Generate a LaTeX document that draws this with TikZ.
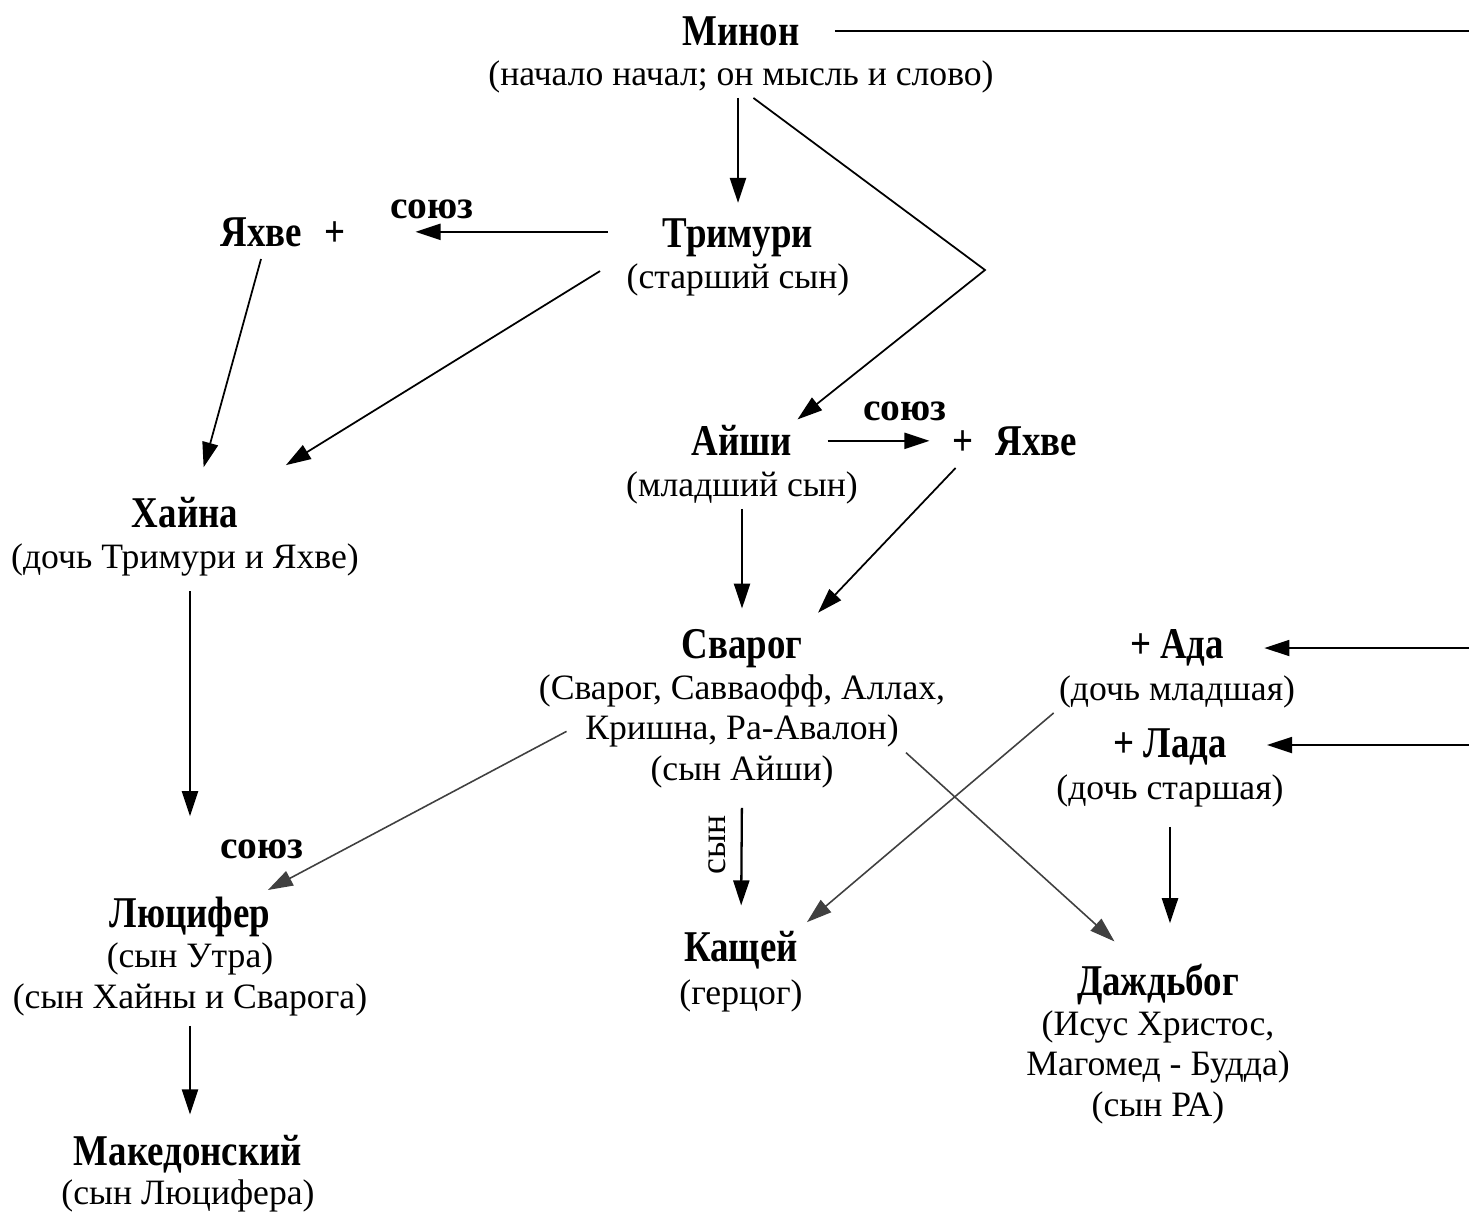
\documentclass[tikz,border=0pt]{standalone}
\usepackage{fontspec}
\setmainfont{Liberation Serif}
\newfontfamily\namefont[FakeStretch=0.84]{Liberation Serif}
\usetikzlibrary{arrows.meta}

\tikzset{
  godname/.style={font=\namefont\bfseries\fontsize{25}{27}\selectfont, inner sep=0.1cm, anchor=base},
  godnote/.style={font=\fontsize{20.3}{22.8}\selectfont, align=center, inner sep=0.1cm, anchor=base},
  unionlbl/.style={font=\bfseries\fontsize{22.5}{24}\selectfont, inner sep=0.1cm, anchor=base},
  descent/.style={-{Triangle[length=0.5cm,width=0.32cm]}, line width=1.3pt},
  descent thin/.style={descent, line width=0.9pt, draw=black!75, fill=black!75},
}

\begin{document}
\begin{tikzpicture}[x=0.02cm,y=-0.02cm]
\useasboundingbox (0,0) rectangle (1469,1214);

% gods and their notes (base = last line)
\node[godname] (minon) at (741,45) {Минон};
\node[godnote] (minon-s) at (741,85) {(начало начал; он мысль и слово)};
\node[godname] (trimuri) at (738,247) {Тримури};
\node[godnote] (trimuri-s) at (738,288) {(старший сын)};
\node[godname] (yahveA) at (283,246) {Яхве\enspace+};
\node[godname] (aishi) at (742,455) {Айши};
\node[godnote] (aishi-s) at (742,496) {(младший сын)};
\node[godname] (yahveB) at (1015,455) {+\enspace Яхве};
\node[godname] (hayna) at (185,527) {Хайна};
\node[godnote] (hayna-s) at (185,568) {(дочь Тримури и Яхве)};
\node[godname] (svarog) at (742,658) {Сварог};
\node[godnote] (svarog-s) at (742,780) {(Сварог, Савваофф, Аллах,\\Кришна, Ра-Авалон)\\(сын Айши)};
\node[godname] (ada) at (1177,658) {+ Ада};
\node[godnote] (ada-s) at (1177,700) {(дочь младшая)};
\node[godname] (lada) at (1170,757) {+ Лада};
\node[godnote] (lada-s) at (1170,799) {(дочь старшая)};
\node[godname] (lucifer) at (190,927) {Люцифер};
\node[godnote] (lucifer-s) at (190,1008) {(сын Утра)\\(сын Хайны и Сварога)};
\node[godname] (makedon) at (188,1165) {Македонский};
\node[godnote] (makedon-s) at (188,1204) {(сын Люцифера)};
\node[godname] (kashchey) at (741,961) {Кащей};
\node[godnote] (kashchey-s) at (741,1004) {(герцог)};
\node[godname] (dazhdbog) at (1158,995) {Даждьбог};
\node[godnote] (dazhdbog-s) at (1158,1116) {(Исус Христос,\\Магомед - Будда)\\(сын РА)};

% labels on links
\node[unionlbl] (soyuzA) at (432,218) {союз};
\node[unionlbl] (soyuzB) at (905,420) {союз};
\node[unionlbl] (soyuzC) at (262,858) {союз};
\node[godnote, anchor=center, rotate=90] (son) at (717,845) {сын};

\coordinate (edgeA) at (1469,30);
\coordinate (edgeB) at (1469,648);
\coordinate (edgeC) at (1469,745);
\coordinate (bend) at (985,270);

% links
\draw[line width=0.9pt, shorten <=0.6cm] (minon.east) -- (minon.east -| edgeA);
\draw[descent, shorten >=0.2cm] (minon-s.south -| trimuri.north) -- (trimuri.north);
\draw[descent, line width=1pt] (minon-s.-60) -- (bend) -- (aishi.north east);
\draw[descent, shorten <=1cm, shorten >=1.3cm] (yahveA.east -| trimuri.west) -- (yahveA.east);
\draw[descent, line width=1pt, shorten <=0.15cm, shorten >=0.5cm] ([xshift=-0.4cm]yahveA.south) -- ([xshift=0.24cm]hayna.north);
\draw[descent, line width=1pt, shorten <=0.5cm, shorten >=1cm] (trimuri-s.north west) -- (hayna.north east);
\draw[descent, shorten <=0.6cm, shorten >=0.36cm] (aishi.east |- yahveB.west) -- (yahveB.west);
\draw[descent, shorten >=0.3cm] (aishi-s.south -| svarog.north) -- (svarog.north);
\draw[descent, line width=1pt, shorten <=0.2cm, shorten >=0.3cm] ([xshift=0.3cm]yahveB.south west) -- (svarog.north east);
\draw[descent, shorten <=0.2cm, shorten >=1.5cm] (hayna-s.south -| lucifer.north) -- (lucifer.north);
\draw[descent thin, shorten >=0.05cm] ([xshift=0.66cm]svarog-s.west) -- ([xshift=-0.2cm]lucifer.north east);
\draw[descent, shorten <=0.3cm, shorten >=0.4cm] (svarog-s.south) -- (kashchey.north);
\draw[descent thin, shorten <=-1.2cm, shorten >=0.5cm] (svarog-s.south east) -- ([xshift=-0.5cm]dazhdbog.north);
\draw[descent thin, shorten >=0.1cm] (ada-s.south west) -- (kashchey.north east);
\draw[descent, shorten <=0.3cm, shorten >=0.7cm] (lada-s.south) -- (lada-s.south |- dazhdbog.north);
\draw[descent, shorten <=0.1cm, shorten >=0.3cm] (lucifer-s.south) -- (lucifer-s.south |- makedon.north);
\draw[descent, line width=1pt, shorten >=0.7cm] (edgeB) -- (edgeB -| ada.east);
\draw[descent, line width=1pt, shorten >=0.7cm] (edgeC) -- (edgeC -| lada.east);
\end{tikzpicture}
\end{document}
